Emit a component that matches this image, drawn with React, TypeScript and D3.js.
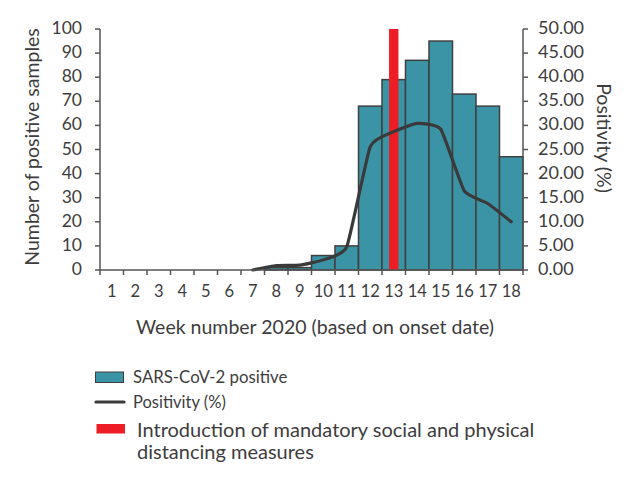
import React from "react";
import * as d3 from "d3";

const weeks = ["1","2","3","4","5","6","7","8","9","10","11","12","13","14","15","16","17","18"];
const positives = [0,0,0,0,0,0,0,1,1,6,10,68,79,87,95,73,68,47];
const positivityWeeks = ["7","8","9","10","11","12","13","14","15","16","17","18"];
const positivity = [0,0.9,1.0,2.1,4.8,25.6,28.7,30.4,29.2,16.4,13.8,10.0];
const leftTicks = [0,10,20,30,40,50,60,70,80,90,100];
const rightTicks = [0,5,10,15,20,25,30,35,40,45,50];
const interventionWeek = "13";

const W = 632, H = 479;
const m = { left: 100, right: 523, top: 29, bottom: 270 };
const FONT = "Lato, sans-serif";
const TXT = "#3d3d3d";
const AX = "#555";

export default function App() {
  const x = d3.scaleBand<string>().domain(weeks).range([m.left, m.right]);
  const yL = d3.scaleLinear().domain([0, 100]).range([m.bottom, m.top]);
  const yR = d3.scaleLinear().domain([0, 50]).range([m.bottom, m.top]);
  const cx = (w: string) => (x(w) as number) + x.bandwidth() / 2;
  const line = d3.line<number>()
    .x((_, i) => cx(positivityWeeks[i]))
    .y((d) => yR(d))
    .curve(d3.curveCardinal.tension(0.55));
  const bounds = d3.range(weeks.length + 1).map((i) => m.left + i * x.bandwidth());
  return (
    <svg width={W} height={H} style={{ position: "absolute", left: 0, top: 0, background: "#fff" }}
      fontFamily={FONT} fill={TXT}>
      {positives.map((v, i) => v > 0 ? (
        <rect key={i} x={x(weeks[i])} y={yL(v)} width={x.bandwidth()} height={m.bottom - yL(v)}
          fill="#3b94a6" stroke="#3f3f3f" strokeWidth={1.5} />
      ) : null)}
      <rect x={cx(interventionWeek) - 4.7} y={yL(100)} width={9.4} height={m.bottom - yL(100)} fill="#ee1d25" />
      <path d={line(positivity) || ""} fill="none" stroke="#3a3a3a" strokeWidth={3.2} strokeLinecap="round" strokeLinejoin="round" />
      {/* x axis */}
      <line x1={m.left} x2={m.right} y1={m.bottom} y2={m.bottom} stroke={AX} strokeWidth={1.5} />
      {bounds.map((b, i) => (
        <line key={i} x1={b} x2={b} y1={m.bottom} y2={m.bottom + 5} stroke={AX} strokeWidth={1.5} />
      ))}
      {weeks.map((w) => (
        <text key={w} x={cx(w)} y={297} fontSize={16.5} textAnchor="middle">{w}</text>
      ))}
      {/* left axis */}
      <line x1={m.left} x2={m.left} y1={m.top} y2={m.bottom} stroke={AX} strokeWidth={1.5} />
      {leftTicks.map((t) => (
        <g key={t}>
          <line x1={m.left - 5} x2={m.left} y1={yL(t)} y2={yL(t)} stroke={AX} strokeWidth={1.5} />
          <text x={82} y={yL(t) + 5} fontSize={17.5} textAnchor="end">{t}</text>
        </g>
      ))}
      {/* right axis */}
      <line x1={m.right} x2={m.right} y1={m.top} y2={m.bottom} stroke={AX} strokeWidth={1.5} />
      {rightTicks.map((t) => (
        <g key={t}>
          <line x1={m.right} x2={m.right + 5} y1={yR(t)} y2={yR(t)} stroke={AX} strokeWidth={1.5} />
          <text x={538} y={yR(t) + 5} fontSize={18} textAnchor="start">{t.toFixed(2)}</text>
        </g>
      ))}
      <text transform="translate(39,147) rotate(-90)" fontSize={19.5} textAnchor="middle">Number of positive samples</text>
      <text transform="translate(597,138) rotate(90)" fontSize={19.5} textAnchor="middle">Positivity (%)</text>
      <text x={315} y={334} fontSize={19.5} textAnchor="middle">Week number 2020 (based on onset date)</text>
      {/* legend */}
      <rect x={95.5} y={372} width={28} height={10.5} fill="#3b94a6" stroke="#3f3f3f" strokeWidth={1} />
      <text x={133} y={383} fontSize={16.8}>SARS-CoV-2 positive</text>
      <line x1={96} x2={124} y1={402} y2={402} stroke="#3a3a3a" strokeWidth={3.2} strokeLinecap="round" />
      <text x={133} y={407.5} fontSize={16.5}>Positivity (%)</text>
      <rect x={96.5} y={424} width={28.5} height={9.5} fill="#ee1d25" />
      <text x={137} y={437} fontSize={20}>Introduction of mandatory social and physical</text>
      <text x={137} y={459} fontSize={20}>distancing measures</text>
    </svg>
  );
}
